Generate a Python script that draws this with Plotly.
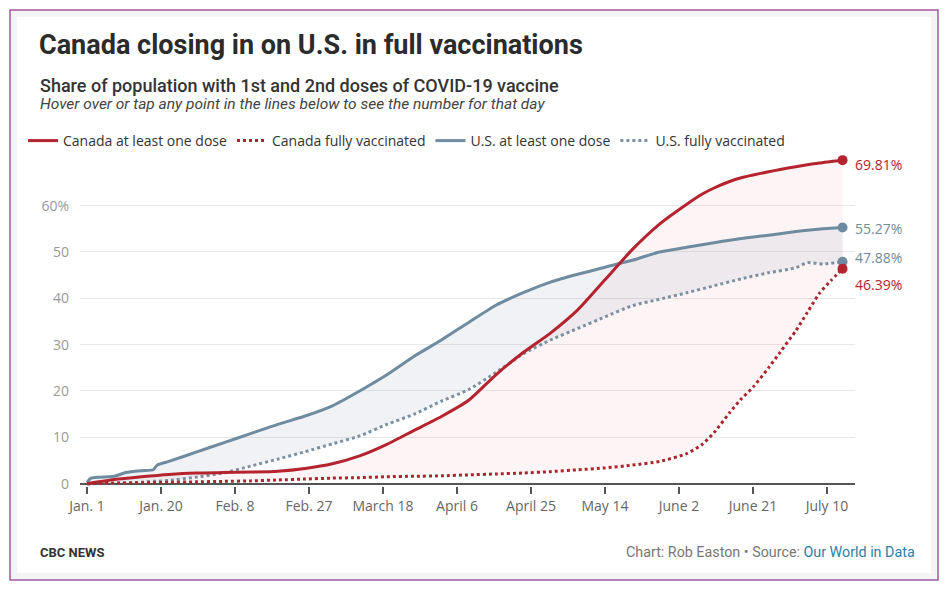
import plotly.graph_objects as go

# ---------------- data ----------------
canada_dates = ["2021-01-01","2021-01-08","2021-01-15","2021-01-22","2021-01-29","2021-02-05","2021-02-12",
                "2021-02-19","2021-02-26","2021-03-05","2021-03-12","2021-03-19","2021-03-26","2021-04-02",
                "2021-04-09","2021-04-16","2021-04-23","2021-04-30","2021-05-07","2021-05-14","2021-05-21",
                "2021-05-28","2021-06-04","2021-06-08","2021-06-11","2021-06-15","2021-06-18","2021-06-21",
                "2021-06-25","2021-06-28","2021-07-02","2021-07-05","2021-07-08","2021-07-11","2021-07-14"]
canada_one = [0.0, 0.9, 1.5, 2.0, 2.3, 2.4, 2.5, 2.7, 3.3, 4.3, 6.0, 8.5, 11.5, 14.5, 18.0, 23.5, 28.3,
              32.5, 37.5, 44.0, 50.5, 56.0, 60.3, 62.5, 63.8, 65.2, 66.0, 66.6, 67.3, 67.8, 68.4, 68.8,
              69.2, 69.5, 69.81]
canada_full = [0.0, 0.1, 0.2, 0.3, 0.4, 0.5, 0.6, 0.8, 1.0, 1.2, 1.3, 1.5, 1.6, 1.7, 1.9, 2.1, 2.3,
               2.6, 3.0, 3.4, 4.0, 4.8, 6.5, 8.5, 11.0, 15.3, 18.3, 20.8, 25.0, 28.4, 33.0, 37.0,
               41.0, 43.8, 46.39]

us_dates = ["2021-01-01","2021-01-02","2021-01-08","2021-01-11","2021-01-15","2021-01-18","2021-01-19",
            "2021-01-22","2021-01-29","2021-02-05","2021-02-12","2021-02-19","2021-02-26","2021-03-05",
            "2021-03-12","2021-03-19","2021-03-26","2021-04-02","2021-04-09","2021-04-16","2021-04-23",
            "2021-04-30","2021-05-07","2021-05-14","2021-05-21","2021-05-28","2021-06-04","2021-06-11",
            "2021-06-18","2021-06-25","2021-07-02","2021-07-05","2021-07-09","2021-07-14"]
us_one = [0.3, 1.2, 1.6, 2.4, 2.8, 3.0, 4.0, 4.8, 6.8, 8.8, 10.8, 12.8, 14.6, 16.8, 20.0, 23.5, 27.5,
          31.0, 34.8, 38.5, 41.2, 43.5, 45.2, 46.7, 48.2, 50.0, 51.0, 52.0, 52.9, 53.6, 54.4, 54.7,
          55.0, 55.27]
us_full = [0.0, 0.0, 0.1, 0.2, 0.3, 0.5, 0.5, 0.7, 1.4, 2.3, 3.8, 5.3, 6.9, 8.6, 10.3, 12.8, 15.0,
           17.8, 20.3, 24.0, 28.0, 31.0, 33.5, 36.0, 38.4, 39.8, 41.2, 42.7, 44.2, 45.5, 46.6, 47.7,
           47.4, 47.88]

x_tick_vals = ["2021-01-01","2021-01-20","2021-02-08","2021-02-27","2021-03-18","2021-04-06",
               "2021-04-25","2021-05-14","2021-06-02","2021-06-21","2021-07-10"]
x_tick_text = ["Jan. 1","Jan. 20","Feb. 8","Feb. 27","March 18","April 6","April 25","May 14",
               "June 2","June 21","July 10"]
y_tick_vals = [0, 10, 20, 30, 40, 50, 60]
y_tick_text = ["0", "10", "20", "30", "40", "50", "60%"]

series_names = ["Canada at least one dose", "Canada fully vaccinated",
                "U.S. at least one dose", "U.S. fully vaccinated"]

# ---------------- style ----------------
W, H = 948, 592
L, R, T, B = 80, 93, 150, 106
PW, PH = W - L - R, H - T - B

def px(x):
    return (x - L) / PW

def py(y):
    return (H - B - y) / PH

CAN = "#b5232f"
CAN_DOT = "#a8272f"
US = "#6f8ba0"
US_DOT = "#7c90a0"
NARROW = "Roboto, sans-serif"
SANS = "Open Sans, Noto Sans, sans-serif"

fig = go.Figure()

# fills (no legend)
fig.add_trace(go.Scatter(x=canada_dates, y=canada_full, mode="lines", line=dict(width=0, shape="spline", smoothing=0.6),
                         showlegend=False, hoverinfo="skip"))
fig.add_trace(go.Scatter(x=canada_dates, y=canada_one, mode="lines", line=dict(width=0, shape="spline", smoothing=0.6),
                         fill="tonexty", fillcolor="rgba(225,90,90,0.06)", showlegend=False, hoverinfo="skip"))
fig.add_trace(go.Scatter(x=us_dates, y=us_full, mode="lines", line=dict(width=0, shape="spline", smoothing=0.6),
                         showlegend=False, hoverinfo="skip"))
fig.add_trace(go.Scatter(x=us_dates, y=us_one, mode="lines", line=dict(width=0, shape="spline", smoothing=0.6),
                         fill="tonexty", fillcolor="rgba(110,130,165,0.10)", showlegend=False, hoverinfo="skip"))

# lines
line_specs = [
    (canada_dates, canada_one, series_names[0], CAN, "solid", 1),
    (canada_dates, canada_full, series_names[1], CAN_DOT, "dot", 2),
    (us_dates, us_one, series_names[2], US, "solid", 3),
    (us_dates, us_full, series_names[3], US_DOT, "dot", 4),
]
for xs, ys, name, col, dash, rank in [line_specs[3], line_specs[2], line_specs[1], line_specs[0]]:
    fig.add_trace(go.Scatter(x=xs, y=ys, mode="lines", name=name, legendrank=rank,
                             line=dict(color=col, width=3, dash=dash, shape="spline", smoothing=0.6)))

# end markers + labels
label_specs = [
    (canada_dates, canada_one, CAN, -4),
    (us_dates, us_one, US, -1),
    (us_dates, us_full, US, 4),
    (canada_dates, canada_full, CAN, -16),
]
for xs, ys, col, ysh in label_specs:
    fig.add_trace(go.Scatter(x=[xs[-1]], y=[ys[-1]], mode="markers", showlegend=False,
                             marker=dict(color=col, size=10), hoverinfo="skip"))
    fig.add_annotation(x=xs[-1], y=ys[-1], xref="x", yref="y", text=f"{ys[-1]:.2f}%",
                       showarrow=False, xanchor="left", yanchor="middle", xshift=10, yshift=ysh,
                       font=dict(family=SANS, size=14, color=col))

# frame
fig.add_shape(type="rect", xref="paper", yref="paper", x0=px(10), x1=px(938), y0=py(580), y1=py(10),
              line=dict(color="#a35aa0", width=1.5), fillcolor="#f4f4f4", layer="below")
fig.add_shape(type="rect", xref="paper", yref="paper", x0=px(17), x1=px(931), y0=py(573), y1=py(17),
              line=dict(width=0), fillcolor="white", layer="below")

# texts
fig.add_annotation(xref="paper", yref="paper", x=px(37), y=py(45), xanchor="left", yanchor="middle",
                   showarrow=False, text="Canada closing in on U.S. in full vaccinations",
                   font=dict(family=NARROW, size=27, color="#2b2b2b", weight=700))
fig.add_annotation(xref="paper", yref="paper", x=px(38), y=py(85), xanchor="left", yanchor="middle",
                   showarrow=False, text="Share of population with 1st and 2nd doses of COVID-19 vaccine",
                   font=dict(family=NARROW, size=18, color="#333333", weight=500))
fig.add_annotation(xref="paper", yref="paper", x=px(38), y=py(104), xanchor="left", yanchor="middle",
                   showarrow=False, text="<i>Hover over or tap any point in the lines below to see the number for that day</i>",
                   font=dict(family=NARROW, size=15.5, color="#444444"))
fig.add_annotation(xref="paper", yref="paper", x=px(38), y=py(552), xanchor="left", yanchor="middle",
                   showarrow=False, text="<b>CBC NEWS</b>",
                   font=dict(family=NARROW, size=13, color="#333333"))
fig.add_annotation(xref="paper", yref="paper", x=px(917), y=py(552), xanchor="right", yanchor="middle",
                   showarrow=False,
                   text="Chart: Rob Easton • Source: <span style='color:#2a7fa8'>Our World in Data</span>",
                   font=dict(family=NARROW, size=14.3, color="#777777"))

fig.update_layout(
    width=W, height=H,
    margin=dict(l=L, r=R, t=T, b=B),
    paper_bgcolor="white", plot_bgcolor="rgba(0,0,0,0)",
    showlegend=True,
    legend=dict(orientation="h", x=px(23), y=py(141), xanchor="left", yanchor="middle",
                font=dict(family=SANS, size=14, color="#333333"), itemwidth=30,
                bgcolor="rgba(0,0,0,0)", traceorder="normal"),
    xaxis=dict(type="date", range=["2020-12-30 04:48", "2021-07-17 04:48"],
               tickvals=x_tick_vals, ticktext=x_tick_text, ticks="outside", ticklen=7,
               tickcolor="#555555", tickwidth=1.5, showgrid=False, showline=False, zeroline=False,
               tickfont=dict(family=SANS, size=14, color="#666666")),
    yaxis=dict(range=[-0.5, 72], tickvals=y_tick_vals, ticktext=y_tick_text, showgrid=True,
               gridcolor="#e8e8e8", gridwidth=1, zeroline=True, zerolinecolor="#555555", zerolinewidth=1.5,
               showline=False, ticks="", ticklabelstandoff=10,
               tickfont=dict(family=SANS, size=14, color="#999999")),
    hovermode="x unified",
)

fig.write_html("out.html", config={"displayModeBar": False})
with open("out.html", "r", encoding="utf-8") as f:
    html = f.read()
html = html.replace("<head>", "<head><style>html,body{margin:0;padding:0;overflow:hidden;}</style>", 1)
with open("out.html", "w", encoding="utf-8") as f:
    f.write(html)
